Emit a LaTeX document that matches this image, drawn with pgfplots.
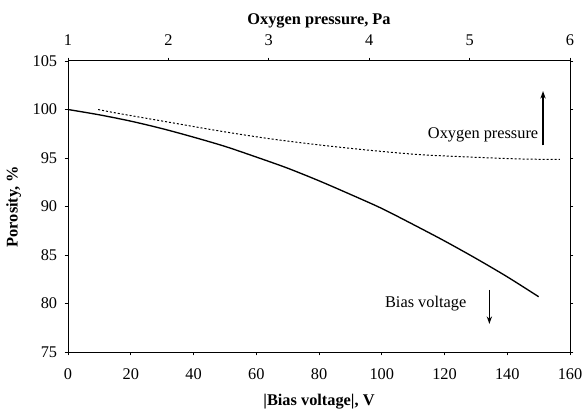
\documentclass[border=0pt]{standalone}
\usepackage{pgfplots}
\pgfplotsset{compat=1.18}
\usetikzlibrary{arrows.meta}
\usepackage{fontspec}
\setmainfont{Liberation Serif}
\begin{document}
\begin{tikzpicture}
\pgfplotsset{
  common/.style={
    scale only axis, width=301.2pt, height=174.6pt,
    ymin=75, ymax=105,
    tick align=outside,
    major tick length=2pt,
    axis line style={line width=0.6pt},
    every tick/.style={black, line width=0.6pt},
    /pgf/number format/assume math mode=true,
    tick label style={font=\fontsize{9.8}{11}\selectfont},
    label style={font=\fontsize{9.8}{11}\selectfont\bfseries},
  }
}
\begin{axis}[common, name=main,
  xmin=0, xmax=160, xtick={0,20,...,160},
  axis x line*=bottom, axis y line*=box,
  x axis line style={-}, y axis line style={-},
  ytick={75,80,...,105}, ytick pos=both,
  xticklabel shift=4.5pt, yticklabel shift=1pt,
  xlabel={|Bias voltage|, V}, ylabel={Porosity, \%},
  xlabel style={yshift=-1.5pt},
  clip=false]
\addplot[black, line width=0.8pt, smooth] coordinates {
(0,100) (10,99.45) (20,98.8) (30,98.03) (40,97.15) (50,96.2) (60,95.1)
(70,93.95) (80,92.65) (90,91.25) (100,89.8) (110,88.15) (120,86.45)
(130,84.65) (140,82.75) (150,80.7)};
\node[font=\fontsize{9.8}{11}\selectfont] at (axis cs:132.3,97.4) {Oxygen pressure};
\draw[line width=0.7pt, -{Stealth[length=4.5pt,width=3.2pt]}] (axis cs:151.4,96.3) -- (axis cs:151.4,101.9);
\node[font=\fontsize{9.8}{11}\selectfont] at (axis cs:114.0,80.0) {Bias voltage};
\draw[line width=0.7pt, -{Stealth[length=4.5pt,width=3.2pt]}] (axis cs:134.3,81.4) -- (axis cs:134.3,77.9);
\end{axis}
\begin{axis}[common,
  xmin=1, xmax=6, xtick={1,2,...,6},
  axis x line*=top, axis y line=none,
  x axis line style={-},
  xticklabel shift=3.5pt,
  xlabel={Oxygen pressure, Pa},
  xlabel style={yshift=-3pt}]
\addplot[black, line width=0.6pt, dash pattern=on 1.2pt off 1.2pt, smooth] coordinates {
(1.3,100.0) (1.5,99.6) (2.0,98.7) (2.5,97.8) (3.0,97.0) (3.5,96.35)
(4.0,95.8) (4.5,95.35) (5.0,95.1) (5.5,94.9) (5.9,94.85)};
\end{axis}
\pgfresetboundingbox
\useasboundingbox ([xshift=-40.8pt,yshift=-34.8pt]main.south west) rectangle ([xshift=7.2pt,yshift=36.6pt]main.north east);
\end{tikzpicture}
\end{document}
